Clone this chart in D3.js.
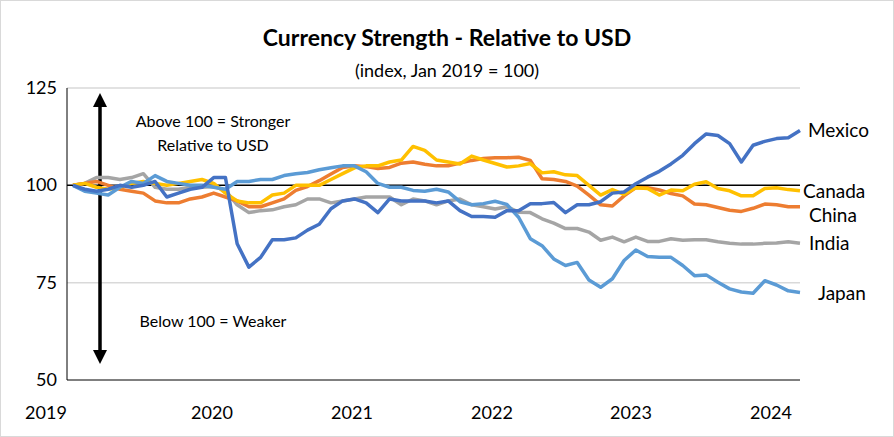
<!DOCTYPE html><html><head><meta charset="utf-8"><script src="https://cdn.jsdelivr.net/npm/d3@7"></script>
<style>body{margin:0;background:#fff}svg text{font-family:Lato,"Open Sans",sans-serif}</style></head><body><svg id="c" width="894" height="437"></svg><script>
const yTicks=[50,75,100,125];
const yearLabels=["2019","2020","2021","2022","2023","2024"];
const mexico=[100,99,98.5,99,100,99.5,100,101,97,98,99,99.5,102,102,85,79,81.5,86,86,86.5,88.5,90,94,96,96.5,95.5,93,96.5,96,96,96,95.5,96,93.5,92,92,91.8,93.5,93.5,95.3,95.3,95.6,93,95,95,95.8,98,98.3,100.4,102.1,103.6,105.5,107.7,110.7,113.2,112.8,110.7,106,110.3,111.3,112,112.2,114.1];
const canada=[100,100.5,99.5,99,99.5,100.5,101,100.5,100,100.5,101,101.5,100.5,98,96,95.5,95.5,97.5,98,100,100,100,101.5,103,104.5,105,105,106,106.5,110,109,106.5,106,105.5,107.5,106.5,105.6,104.7,105,105.6,103.2,103.5,102.7,102.5,100,97.5,98.9,97.7,99.4,99.2,97.5,98.8,98.6,100.3,100.9,99.2,98.6,97.3,97.3,99.2,99.4,98.9,98.6];
const china=[100,100.5,101,100,99,98.5,98,96,95.5,95.5,96.5,97,98,97,96,94.5,94.5,95.5,96.5,98.7,99.7,101.2,102.9,104.6,105,104.8,104.3,104.6,105.7,106,105.4,105,105,105.7,106.4,106.9,107.1,107.1,107.2,106.4,101.7,101.5,101,99.8,97.5,95,94.7,97.3,99.4,99.4,98.8,97.9,97.3,95.2,95,94.3,93.6,93.3,94.1,95.2,95,94.5,94.5];
const india=[100,100.5,102,102,101.5,102,103,99.5,99,99,99.5,99.5,99.7,98.7,95,93,93.5,93.7,94.5,95,96.5,96.5,95.5,96,96.5,97,97,97,95,96.5,96,95,96,96.5,95,94.5,93.9,94.5,93.1,93,91.4,90.3,88.9,88.9,88,85.9,86.7,85.5,86.7,85.6,85.6,86.3,85.9,86,86,85.5,85.1,84.9,84.9,85.1,85.2,85.5,85.1];
const japan=[100,98.5,98,97.5,99.5,101,100.5,102.5,101,100.5,100,100,99.5,99,101,101,101.5,101.5,102.5,103,103.3,104,104.5,105,105,103.5,100.5,99.5,99.5,98.7,98.5,99,98.3,95.8,95,95.3,95.9,95.1,91.8,86.3,84.5,81.1,79.4,80.2,75.7,73.8,76,80.7,83.4,81.7,81.5,81.5,79.4,76.8,77,75.1,73.4,72.6,72.3,75.5,74.4,72.9,72.5];
const series=[{n:"India",d:india,c:"#A5A5A5",ly:244,lx:809},{n:"China",d:china,c:"#ED7D31",ly:216,lx:809},{n:"Canada",d:canada,c:"#FFC000",ly:192,lx:803},{n:"Japan",d:japan,c:"#5B9BD5",ly:294,lx:818},{n:"Mexico",d:mexico,c:"#4472C4",ly:131,lx:808}];
const svg=d3.select("#c");
svg.append("rect").attr("x",0.5).attr("y",0.5).attr("width",893).attr("height",436).attr("fill","#fff").attr("stroke","#d9d9d9");
const x=d3.scaleLinear().domain([0,62]).range([73,800]);
const y=d3.scaleLinear().domain([50,125]).range([380,88]);
svg.append("text").attr("x",447).attr("y",46).attr("text-anchor","middle").attr("font-size",23).attr("font-weight","bold").text("Currency Strength - Relative to USD");
svg.append("text").attr("x",447).attr("y",77).attr("text-anchor","middle").attr("font-size",18).text("(index, Jan 2019 = 100)");
yTicks.forEach(t=>{ if(t!==50) svg.append("line").attr("x1",67).attr("x2",800).attr("y1",y(t)).attr("y2",y(t)).attr("stroke",t===100?"#000":"#d9d9d9").attr("stroke-width",1.5);
 svg.append("text").attr("x",57).attr("y",y(t)+6).attr("text-anchor","end").attr("font-size",18).text(t);});
svg.append("line").attr("x1",67).attr("x2",67).attr("y1",88).attr("y2",380).attr("stroke","#000");
svg.append("line").attr("x1",67).attr("x2",800).attr("y1",380).attr("y2",380).attr("stroke","#000");
const yx=[46,212,352,492,631,771];
yearLabels.forEach((l,i)=>{svg.append("text").attr("x",yx[i]).attr("y",419).attr("text-anchor","middle").attr("font-size",18).text(l);});
const defs=svg.append("defs");
defs.append("marker").attr("id","ah").attr("viewBox","0 0 10 10").attr("refX",5).attr("refY",5).attr("markerWidth",4).attr("markerHeight",4).attr("orient","auto-start-reverse").append("path").attr("d","M0,0L10,5L0,10z").attr("fill","#000");
svg.append("line").attr("x1",100).attr("x2",100).attr("y1",100).attr("y2",357).attr("stroke","#000").attr("stroke-width",3.5).attr("marker-start","url(#ah)").attr("marker-end","url(#ah)");
[["Above 100 = Stronger",127],["Relative to USD",151],["Below 100 = Weaker",327]].forEach(a=>svg.append("text").attr("x",213).attr("y",a[1]).attr("text-anchor","middle").attr("font-size",16).text(a[0]));
const line=d3.line().x((d,i)=>x(i)).y(d=>y(d));
series.forEach(s=>{svg.append("path").datum(s.d).attr("d",line).attr("fill","none").attr("stroke",s.c).attr("stroke-width",3.5).attr("stroke-linejoin","round");});
series.forEach(s=>svg.append("text").attr("x",s.lx).attr("y",s.ly+6).attr("font-size",19).text(s.n));
</script></body></html>
